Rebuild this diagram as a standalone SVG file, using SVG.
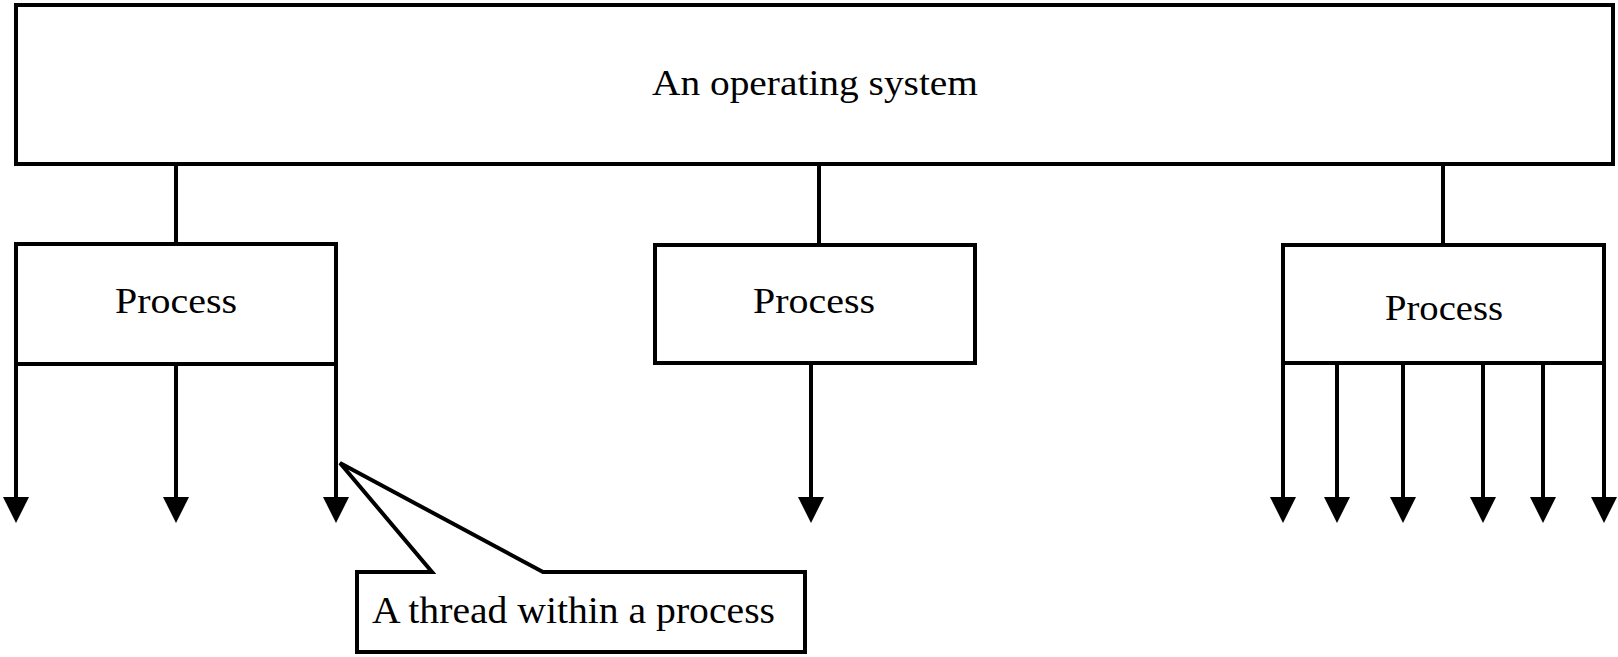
<svg xmlns="http://www.w3.org/2000/svg" width="1618" height="657" viewBox="0 0 1618 657">
<style>
.box{fill:#fff;stroke:#000;stroke-width:4}
.ln{stroke:#000;stroke-width:4;fill:none}
.t{font-family:"Liberation Serif","Times New Roman",serif;fill:#000}
</style>
<defs>
<marker id="arr" markerUnits="userSpaceOnUse" markerWidth="30" markerHeight="30" viewBox="-15 -2 30 30" refX="0" refY="0" overflow="visible">
<path d="M-13,0 L13,0 L0,26 Z" fill="#000"/>
</marker>
</defs>
<rect width="1618" height="657" fill="#fff"/>
<g id="connectors">
<line class="ln" x1="176" y1="164" x2="176" y2="244"/>
<line class="ln" x1="819" y1="164" x2="819" y2="245"/>
<line class="ln" x1="1443" y1="164" x2="1443" y2="245"/>
<line class="ln" x1="16" y1="364" x2="16" y2="497" marker-end="url(#arr)"/>
<line class="ln" x1="176" y1="364" x2="176" y2="497" marker-end="url(#arr)"/>
<line class="ln" x1="336" y1="364" x2="336" y2="497" marker-end="url(#arr)"/>
<line class="ln" x1="811" y1="363" x2="811" y2="497" marker-end="url(#arr)"/>
<line class="ln" x1="1283" y1="363" x2="1283" y2="497" marker-end="url(#arr)"/>
<line class="ln" x1="1337" y1="363" x2="1337" y2="497" marker-end="url(#arr)"/>
<line class="ln" x1="1403" y1="363" x2="1403" y2="497" marker-end="url(#arr)"/>
<line class="ln" x1="1483" y1="363" x2="1483" y2="497" marker-end="url(#arr)"/>
<line class="ln" x1="1543" y1="363" x2="1543" y2="497" marker-end="url(#arr)"/>
<line class="ln" x1="1604" y1="363" x2="1604" y2="497" marker-end="url(#arr)"/>
</g>
<g id="os">
<rect class="box" x="16" y="5" width="1597" height="159"/>
<text class="t" x="652" y="95" font-size="35" textLength="326" lengthAdjust="spacingAndGlyphs">An operating system</text>
</g>
<g id="process1">
<rect class="box" x="16" y="244" width="320" height="120"/>
<text class="t" x="115" y="313" font-size="35" textLength="122" lengthAdjust="spacingAndGlyphs">Process</text>
</g>
<g id="process2">
<rect class="box" x="655" y="245" width="320" height="118"/>
<text class="t" x="753" y="313" font-size="35" textLength="122" lengthAdjust="spacingAndGlyphs">Process</text>
</g>
<g id="process3">
<rect class="box" x="1283" y="245" width="321" height="118"/>
<text class="t" x="1385" y="320" font-size="35" textLength="118" lengthAdjust="spacingAndGlyphs">Process</text>
</g>
<g id="callout">
<path class="box" d="M357,572 L432,572 L340,463 L543,572 L805,572 L805,652 L357,652 Z"/>
<text class="t" x="372" y="623" font-size="38" textLength="403" lengthAdjust="spacingAndGlyphs">A thread within a process</text>
</g>
</svg>
